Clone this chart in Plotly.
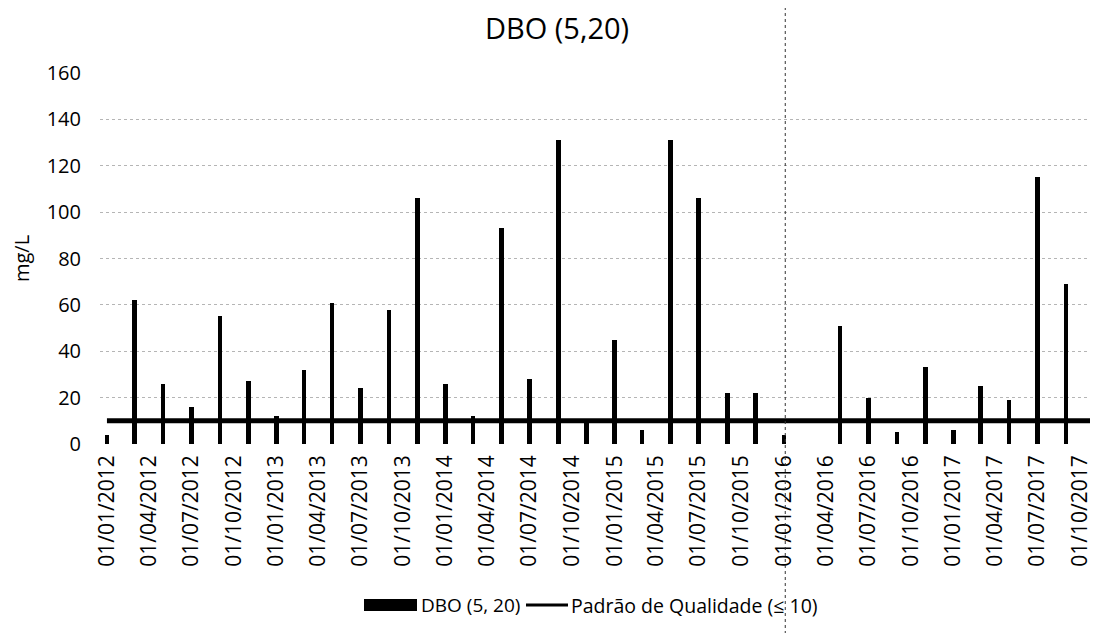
import plotly.graph_objects as go

# ---- data (bimonthly samples) ----
dates = [
    "2012-01-01", "2012-03-01", "2012-05-01", "2012-07-01", "2012-09-01", "2012-11-01",
    "2013-01-01", "2013-03-01", "2013-05-01", "2013-07-01", "2013-09-01", "2013-11-01",
    "2014-01-01", "2014-03-01", "2014-05-01", "2014-07-01", "2014-09-01", "2014-11-01",
    "2015-01-01", "2015-03-01", "2015-05-01", "2015-07-01", "2015-09-01", "2015-11-01",
    "2016-01-01", "2016-03-01", "2016-05-01", "2016-07-01", "2016-09-01", "2016-11-01",
    "2017-01-01", "2017-03-01", "2017-05-01", "2017-07-01", "2017-09-01", "2017-11-01",
]
dbo_values = [
    4, 62, 26, 16, 55, 27,
    12, 32, 61, 24, 58, 106,
    26, 12, 93, 28, 131, 9,
    45, 6, 131, 106, 22, 22,
    4, None, 51, 20, 5, 33,
    6, 25, 19, 115, 69, 14,
]
padrao_values = [10] * len(dates)
tick_dates = [
    "2012-01-01", "2012-04-01", "2012-07-01", "2012-10-01",
    "2013-01-01", "2013-04-01", "2013-07-01", "2013-10-01",
    "2014-01-01", "2014-04-01", "2014-07-01", "2014-10-01",
    "2015-01-01", "2015-04-01", "2015-07-01", "2015-10-01",
    "2016-01-01", "2016-04-01", "2016-07-01", "2016-10-01",
    "2017-01-01", "2017-04-01", "2017-07-01", "2017-10-01",
]
tick_labels = [d[8:10] + "/" + d[5:7] + "/" + d[0:4] for d in tick_dates]
y_ticks = [0, 20, 40, 60, 80, 100, 120, 140, 160]

FONT = "Open Sans"
DAY_MS = 86400000

fig = go.Figure()
fig.add_trace(go.Bar(
    x=dates, y=dbo_values, name="DBO (5, 20)",
    marker=dict(color="black", line=dict(width=0)),
    width=10 * DAY_MS, showlegend=False,
))
fig.add_trace(go.Scatter(
    x=dates, y=padrao_values, name="Padrão de Qualidade (≤ 10)",
    mode="lines", line=dict(color="black", width=5), showlegend=False,
))

# The page body adds an 8 px offset, so the figure is 8 px smaller and
# everything is laid out in "reference" pixels minus that offset.
OFF = 8
W, H = 1098 - OFF, 633 - OFF
L, T = 100 - OFF, 73 - OFF
R = 0
B = H - (444 - OFF)
pw, ph = W - L - R, H - T - B

def px(x):
    return (x - OFF - L) / pw

def py(y):
    return (T + ph - (y - OFF)) / ph

shapes = [
    # legend key: bar
    dict(type="rect", xref="paper", yref="paper",
         x0=px(364), x1=px(417), y0=py(611), y1=py(599),
         fillcolor="black", line=dict(width=0)),
    # legend key: line
    dict(type="line", xref="paper", yref="paper",
         x0=px(526), x1=px(568), y0=py(605), y1=py(605),
         line=dict(color="black", width=3)),
    # scanner fold line
    dict(type="line", xref="x", yref="paper",
         x0="2016-01-04", x1="2016-01-04", y0=py(640), y1=py(0),
         line=dict(color="#333333", width=1, dash="dot")),
]
annotations = [
    dict(text="DBO (5, 20)", xref="paper", yref="paper", x=px(419), y=py(605),
         xanchor="left", yanchor="middle", showarrow=False,
         font=dict(family=FONT, size=19, color="black")),
    dict(text="Padrão de Qualidade (≤ 10)", xref="paper", yref="paper", x=px(569), y=py(605),
         xanchor="left", yanchor="middle", showarrow=False,
         font=dict(family=FONT, size=19.5, color="black")),
]

fig.update_layout(
    width=W, height=H,
    margin=dict(l=L, r=R, t=T, b=B, autoexpand=False),
    paper_bgcolor="white", plot_bgcolor="white",
    font=dict(family=FONT, color="black"),
    title=dict(text="DBO (5,20)", x=(557 - OFF) / W, xanchor="center",
               y=1 - (29 - OFF) / H, yanchor="middle", yref="container",
               font=dict(family=FONT, size=29, color="black")),
    shapes=shapes, annotations=annotations,
    bargap=0,
    xaxis=dict(
        type="date", automargin=False,
        range=["2011-12-17", "2017-11-09"],
        tickmode="array", tickvals=tick_dates, ticktext=tick_labels,
        tickangle=-90, tickfont=dict(family=FONT, size=21, color="black"),
        showgrid=False, zeroline=False, showline=False, ticks="",
        ticklabelstandoff=6,
    ),
    yaxis=dict(
        range=[0, 160], tickmode="array", tickvals=y_ticks, automargin=False,
        tickfont=dict(family=FONT, size=20, color="black"),
        showgrid=True, gridcolor="#b5b5b5", gridwidth=1, griddash="dot",
        zeroline=False, showline=False, ticks="",
        ticklabelstandoff=18,
        title=dict(text="mg/L", font=dict(family=FONT, size=20, color="black"), standoff=14),
    ),
)

fig.write_html("out.html")
